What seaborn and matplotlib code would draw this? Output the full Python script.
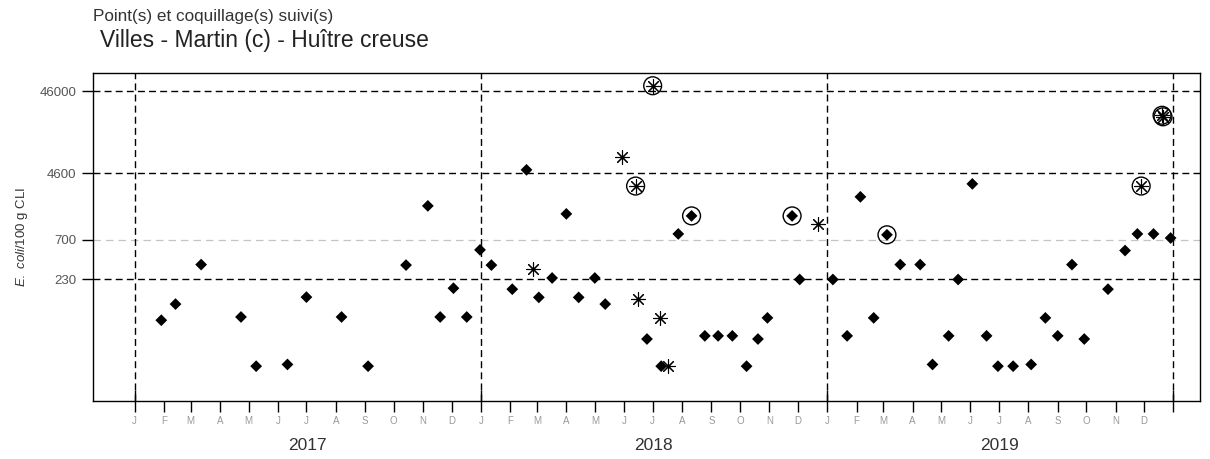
import pandas as pd
import numpy as np
import matplotlib
matplotlib.use('Agg')
import matplotlib.pyplot as plt
import matplotlib.dates as mdates
import matplotlib.ticker as mticker
import seaborn as sns

# sampling dates and E. coli results (MPN / 100 g CLI)
dates = ['2017-01-29', '2017-02-13', '2017-03-12', '2017-04-23', '2017-05-09',
         '2017-06-11', '2017-07-01', '2017-08-07', '2017-09-04', '2017-10-14',
         '2017-11-06', '2017-11-19', '2017-12-03', '2017-12-17', '2017-12-31',
         '2018-01-12', '2018-02-03', '2018-02-18', '2018-02-25', '2018-03-03',
         '2018-03-17', '2018-04-01', '2018-04-14', '2018-05-01', '2018-05-12',
         '2018-05-30', '2018-06-13', '2018-06-16', '2018-07-01', '2018-06-25',
         '2018-07-09', '2018-07-10', '2018-07-17', '2018-07-28', '2018-08-11',
         '2018-08-25', '2018-09-08', '2018-09-23', '2018-10-08', '2018-10-20',
         '2018-10-30', '2018-11-25', '2018-12-03', '2018-12-22',
         '2019-01-07', '2019-01-22', '2019-02-05', '2019-02-19', '2019-03-05',
         '2019-03-19', '2019-04-09', '2019-04-22', '2019-05-09', '2019-05-19',
         '2019-06-03', '2019-06-18', '2019-06-30', '2019-07-16', '2019-08-04',
         '2019-08-19', '2019-09-01', '2019-09-16', '2019-09-29', '2019-10-24',
         '2019-11-11', '2019-11-28', '2019-11-24', '2019-12-11', '2019-12-20',
         '2019-12-21', '2019-12-29']
values = [73, 115, 350, 80, 20,
          21, 140, 80, 20, 345,
          1830, 80, 180, 80, 530,
          345, 175, 5050, 305, 139,
          240, 1460, 139, 240, 115,
          7300, 3200, 133, 54000, 43,
          78, 20, 20, 830, 1380,
          47, 47, 47, 20, 43,
          78, 1380, 230, 1100,
          230, 47, 2360, 78, 810,
          350, 350, 21, 47, 230,
          3400, 47, 20, 20, 21,
          78, 47, 350, 43, 175,
          520, 3200, 830, 830, 23500,
          22500, 740]
# D = result, A = alert sample, CD = circled result, CA = circled alert
kinds = ['D', 'D', 'D', 'D', 'D',
         'D', 'D', 'D', 'D', 'D',
         'D', 'D', 'D', 'D', 'D',
         'D', 'D', 'D', 'A', 'D',
         'D', 'D', 'D', 'D', 'D',
         'A', 'CA', 'A', 'CA', 'D',
         'A', 'D', 'A', 'D', 'CD',
         'D', 'D', 'D', 'D', 'D',
         'D', 'CD', 'D', 'A',
         'D', 'D', 'D', 'D', 'CD',
         'D', 'D', 'D', 'D', 'D',
         'D', 'D', 'D', 'D', 'D',
         'D', 'D', 'D', 'D', 'D',
         'D', 'CA', 'D', 'D', 'CA',
         'CA', 'D']

thresholds = [46000, 4600, 230]
grey_threshold = 700
years = [2017, 2018, 2019]
month_letters = ['J', 'F', 'M', 'A', 'M', 'J', 'J', 'A', 'S', 'O', 'N', 'D']

df = pd.DataFrame({'date': pd.to_datetime(dates), 'value': values, 'kind': kinds})

sns.set_style('ticks')
plt.rcParams['font.family'] = ['Liberation Sans', 'DejaVu Sans']
plt.rcParams['mathtext.fontset'] = 'custom'
plt.rcParams['mathtext.it'] = 'Liberation Sans:italic'
plt.rcParams['mathtext.rm'] = 'Liberation Sans'

fig = plt.figure(figsize=(12.1, 4.59), dpi=100)
ax = fig.add_axes([93 / 1210, 58 / 459, 1107 / 1210, 328 / 459])

ax.set_yscale('log')
ax.set_xlim(pd.Timestamp('2016-11-18'), pd.Timestamp('2020-01-29'))
ax.set_ylim(7.5, 77300)

# threshold lines
for t in thresholds:
    ax.axhline(t, color='black', lw=1.0, dashes=(5, 3), zorder=1)
ax.axhline(grey_threshold, color='#c4c4c4', lw=0.9, dashes=(6, 4), zorder=1)
for y in years + [2020]:
    ax.axvline(pd.Timestamp(f'{y}-01-01'), color='black', lw=1.0, dashes=(5, 3), zorder=1)

star = (8, 2, 0)
d = df[df.kind == 'D']
sns.scatterplot(data=d, x='date', y='value', marker='D', s=36, color='black',
                edgecolor='none', ax=ax, zorder=3, legend=False)
a = df[df.kind.isin(['A', 'CA'])]
sns.scatterplot(data=a, x='date', y='value', marker=star, s=100, color='black',
                linewidth=0.8, ax=ax, zorder=3, legend=False)
cd = df[df.kind == 'CD']
sns.scatterplot(data=cd, x='date', y='value', marker='D', s=36, color='black',
                edgecolor='none', ax=ax, zorder=3, legend=False)
c = df[df.kind.isin(['CD', 'CA'])]
sns.scatterplot(data=c, x='date', y='value', marker='o', s=165, facecolor='none',
                edgecolor='black', linewidth=1.0, ax=ax, zorder=4, legend=False)

# y axis
ax.yaxis.set_major_locator(mticker.FixedLocator(thresholds + [grey_threshold]))
ax.yaxis.set_major_formatter(mticker.FixedFormatter(['46000', '4600', '230', '700']))
ax.yaxis.set_minor_locator(mticker.NullLocator())
ax.tick_params(axis='y', which='major', direction='out', length=8, width=1,
               color='black', labelsize=9.5, labelcolor='#555555', pad=4)
ax.set_ylabel(r'$\it{E.\ coli}$/100 g CLI', fontsize=9.5, color='#333333', labelpad=7)

# x axis: months + years
jan = [pd.Timestamp(f'{y}-01-01') for y in years + [2020]]
months = [pd.Timestamp(f'{y}-{m:02d}-01') for y in years for m in range(2, 13)]
ax.xaxis.set_major_locator(mticker.FixedLocator(mdates.date2num(jan)))
ax.xaxis.set_major_formatter(mticker.FixedFormatter(['J', 'J', 'J', '']))
ax.xaxis.set_minor_locator(mticker.FixedLocator(mdates.date2num(months)))
ax.xaxis.set_minor_formatter(mticker.FixedFormatter(month_letters[1:] * 3))
ax.tick_params(axis='x', which='major', direction='inout', length=16, width=1,
               color='black', labelsize=7, labelcolor='#999999', pad=3)
ax.tick_params(axis='x', which='minor', direction='out', length=8, width=1,
               color='black', labelsize=7, labelcolor='#999999', pad=3)
ax.set_xlabel('')
for y in years:
    ax.text(mdates.date2num(pd.Timestamp(f'{y}-07-02')), -0.137, str(y),
            transform=ax.get_xaxis_transform(), ha='center', va='center',
            fontsize=12.5, color='#333333')

for sp in ax.spines.values():
    sp.set_color('black')
    sp.set_linewidth(1.0)

fig.text(93 / 1210, 1 - 17 / 459, 'Point(s) et coquillage(s) suivi(s)', ha='left',
         va='center', fontsize=12.3, color='#333333')
fig.text(100 / 1210, 1 - 41 / 459, 'Villes - Martin (c) - Huître creuse', ha='left',
         va='center', fontsize=16.5, color='#222222')

fig.savefig('out.png', dpi=100)
